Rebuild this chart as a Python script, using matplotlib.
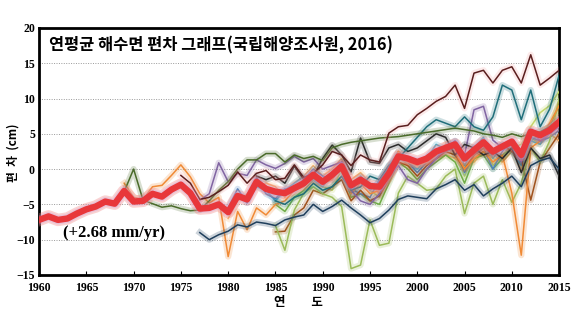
import matplotlib
matplotlib.use("Agg")
import matplotlib.pyplot as plt
import matplotlib.patheffects as pe
import numpy as np

# ---------------- data ----------------
mean_years = list(range(1960, 2016))
mean_vals = [-7.2, -6.7, -7.2, -7.0, -6.3, -5.7, -5.3, -4.6, -4.9, -3.1,
             -4.6, -4.5, -3.5, -3.9, -2.9, -2.2, -3.4, -5.6, -5.5, -5.0,
             -6.1, -3.8, -4.3, -1.8, -2.8, -3.2, -3.4, -2.7, -2.0, -0.8,
             -1.8, -0.8, 0.4, -2.3, -1.5, -2.4, -2.5, -0.6, 1.8, 1.5,
             1.0, 1.5, 2.5, 3.0, 3.5, 1.5, 2.7, 3.8, 2.5, 3.2,
             3.9, 2.0, 5.3, 4.8, 5.5, 6.7]

brown_start = 1975
brown_vals = [-0.9, -2.0, -4.3, -4.0, -3.2, -2.3, -0.4, -2.0, -0.6, -0.2,
              -1.5, -1.3, 0.6, -1.2, -0.6, 0.6, 2.5, 2.0, 0.5, 2.0,
              1.3, 1.0, 5.1, 6.0, 6.2, 7.7, 8.6, 9.6, 10.3, 11.9,
              8.6, 13.6, 14.0, 12.2, 14.0, 14.5, 12.2, 16.2, 11.9, 12.9, 14.0]

navy_start = 1977
navy_vals = [-9.0, -10.0, -9.3, -8.8, -7.9, -8.2, -7.5, -7.7, -8.0, -7.2,
             -6.8, -6.5, -5.0, -6.0, -5.3, -4.4, -5.5, -6.5, -7.6, -7.0,
             -5.8, -4.3, -3.8, -4.0, -4.2, -2.8, -2.2, -1.5, -3.0, -2.2,
             -3.8, -2.8, -2.0, -1.0, -2.5, 0.5, 1.2, 1.6, 0.0]

olive_start = 1985
olive_vals = [-8.0, -11.5, -5.8, -3.4, -2.5, -3.5, -4.0, -5.3, -14.1, -13.6,
              -7.2, -10.8, -10.5, -3.4, -1.0, -2.0, -3.0, -2.8, -1.0, 0.0,
              -6.3, -2.0, -1.0, -5.0, -1.5, -4.7, -2.0, 3.0, 1.0, 4.0, 10.0]

orange_start = 1969
orange_vals = [-2.0, -4.0, -4.3, -2.5, -2.3, -0.9, 0.6, -1.1, -3.5, -4.8,
               -4.0, -12.4, -6.0, -8.6, -5.5, -6.5, -5.0, -4.5, -3.0, -2.5,
               -1.0, -2.0, -1.5, 0.5, -3.5, -2.0, -3.5, -3.0, -1.0, 2.5,
               1.0, 0.5, 1.0, 2.0, 3.5, 2.5, 0.0, 1.5, 2.5, 1.0,
               2.0, -3.4, -12.2, 3.0, 4.0, 6.5, 9.0]

purple_start = 1977
purple_vals = [-4.4, -3.5, 0.9, -1.8, -0.6, -0.9, 1.3, 0.6, 0.1, 0.8,
               1.8, 1.0, 1.5, 0.0, 0.5, 1.0, -3.0, -4.5, -5.0, -3.5,
               -1.0, 0.5, -1.5, -2.0, 0.0, 1.5, 3.0, 4.0, 2.0, 8.4,
               8.9, 4.1, 3.0, 3.5, 1.0, 5.5, 4.0, 5.0, 6.0]

dkgreen_start = 1969
dkgreen_vals = [-3.2, 0.0, -4.4, -4.9, -5.4, -5.2, -5.6, -5.9, -5.8, -4.5,
                -3.0, -1.8, 0.0, 1.3, 1.3, 2.2, 2.2, 1.0, 2.0, 1.5,
                1.8, 1.2, 3.0, 3.5, 3.8, 4.0, 4.2, 4.4, 4.5, 4.6,
                4.8, 5.0, 5.2, 5.4, 5.6, 5.8, 5.6, 5.4, 5.0, 4.8,
                4.5, 5.0, 4.6, 5.0, 5.3, 6.0, 7.0]

teal_start = 1985
teal_vals = [-4.5, -5.0, -4.0, -3.5, -2.0, -3.0, -2.5, -1.0, -3.0, -2.5,
             -1.0, -1.5, 0.5, 1.5, 3.0, 4.5, 6.0, 7.0, 6.5, 6.0,
             7.4, 6.0, 5.5, 7.4, 11.9, 11.2, 7.0, 11.2, 6.0, 8.5, 13.3]

blue_start = 1980
blue_vals = [-5.5, -2.8, -4.8, -1.2, -3.5, -4.2, -2.8, -3.0, -1.5, 0.0,
             -1.0, -1.5, 1.0, -2.8, -3.5, -4.0, -1.5, 0.0, 2.5, 1.0,
             -0.5, 1.0, 2.0, 2.5, 3.0, -0.5, 2.0, 3.0, 0.0, 2.5,
             4.0, 1.0, 4.5, 4.0, 4.5, 5.5]

cyan_start = 1983
cyan_vals = [-2.5, -3.0, -4.5, -3.0, -2.0, -1.0, -1.5, -2.5, -0.5, 0.0,
             -3.5, -1.0, -3.0, -1.8, 0.5, 2.0, 1.0, 0.0, 1.5, 3.5,
             2.8, 4.0, 0.5, 3.0, 4.5, 1.5, 3.5, 2.5, 0.5, 4.0,
             3.5, 6.0, 7.0]

ltorange_start = 1980
ltorange_vals = [-7.0, -4.5, -3.5, -2.5, -2.0, -2.5, -4.0, -2.0, -1.0, 0.5,
                 -1.0, 0.0, 1.5, -1.5, -0.5, -2.0, -3.5, -1.5, 2.0, 0.5,
                 0.0, 0.8, 1.5, 2.0, 1.5, 0.5, 1.0, 2.5, 1.5, 1.0,
                 2.5, 0.0, 4.5, 3.5, 5.0, 4.0]

rust_start = 1985
rust_vals = [-8.9, -8.8, -6.5, -5.5, -3.0, -3.5, -2.5, -1.5, -4.5, -3.0,
             -4.5, -3.8, -1.5, 1.0, 0.5, -1.0, 0.5, 1.5, 2.5, 2.0,
             0.0, 2.0, 3.0, 2.0, 3.5, 2.5, 1.5, -4.4, 1.0, 3.0, 5.0]

green_start = 1985
green_vals = [-5.0, -6.0, -4.0, -3.0, -1.5, -2.0, -1.0, 0.5, -4.0, -3.5,
              -4.5, -5.0, -2.0, 1.0, 0.0, -1.5, 0.0, 1.0, 2.0, 1.0,
              -2.0, 1.5, 2.0, 0.0, 1.5, 3.0, 1.0, 4.0, 5.0, 6.0, 9.0]

ygreen_start = 1987
ygreen_vals = [-4.0, -3.5, -2.0, -2.5, -3.0, 0.0, -2.0, -1.0, -3.0, -4.0,
               0.0, 2.0, 1.0, 0.5, 1.5, 2.0, 3.0, 2.5, -1.0, 2.0,
               4.0, 0.5, 2.0, 3.0, 3.5, 6.0, 8.0, 9.0, 11.0]

black_start = 1983
black_vals = [-1.0, -1.5, -1.0, -2.0, 0.4, -1.5, -1.0, 1.5, 3.4, 2.0,
              -0.4, 4.4, 1.0, 0.8, 3.0, 3.5, 2.5, 3.0, 4.0, 5.0,
              4.5, 2.0, 3.5, 3.0, 2.0, 2.5, 1.5, 3.0, -0.5, 3.0,
              1.5, 2.0, -1.0]

x_ticks = [1960, 1965, 1970, 1975, 1980, 1985, 1990, 1995, 2000, 2005, 2010, 2015]
y_ticks = [-15, -10, -5, 0, 5, 10, 15, 20]

title_text = "연평균 해수면 편차 그래프(국립해양조사원, 2016)"
rate_text = "(+2.68 mm/yr)"
ylabel_text = "편  차  (cm)"
xlabel_text = "연         도"

# ---------------- plot ----------------
fig = plt.figure(figsize=(5.83, 3.25), dpi=100)
ax = fig.add_axes([0.067, 0.154, 0.892, 0.760])

stations = [
    (ygreen_start, ygreen_vals, "#c3d66a"),
    (ltorange_start, ltorange_vals, "#f6b26b"),
    (green_start, green_vals, "#70ad47"),
    (cyan_start, cyan_vals, "#4bacc6"),
    (blue_start, blue_vals, "#4f81bd"),
    (rust_start, rust_vals, "#a0521d"),
    (olive_start, olive_vals, "#9bbb59"),
    (orange_start, orange_vals, "#f08a36"),
    (purple_start, purple_vals, "#8064a2"),
    (black_start, black_vals, "#2b2b2b"),
    (teal_start, teal_vals, "#1f6e7a"),
    (dkgreen_start, dkgreen_vals, "#4a6b2a"),
    (navy_start, navy_vals, "#1f3f5c"),
    (brown_start, brown_vals, "#5a1e1e"),
]

for start, vals, col in stations:
    yrs = np.arange(start, start + len(vals))
    glow = "#f4a0a0" if col == "#5a1e1e" else col
    ax.plot(yrs, vals, color=col, lw=1.1, zorder=3,
            path_effects=[pe.Stroke(linewidth=4.5, foreground=glow, alpha=0.22),
                          pe.Normal()])

ax.plot(mean_years, mean_vals, color="#e8373a", lw=4.6, zorder=5,
        solid_joinstyle="round",
        path_effects=[pe.Stroke(linewidth=9, foreground="#f08080", alpha=0.35),
                      pe.Stroke(linewidth=6.5, foreground="#c8a0e0", alpha=0.3),
                      pe.Normal()])

ax.set_xlim(1960, 2015)
ax.set_ylim(-15, 20)
ax.set_xticks(x_ticks)
ax.set_yticks(y_ticks)

serif = ["Liberation Serif", "DejaVu Serif"]
for lab in ax.get_xticklabels() + ax.get_yticklabels():
    lab.set_fontfamily(serif)
    lab.set_fontweight("bold")
    lab.set_fontsize(8.5)

ax.tick_params(axis="x", direction="in", length=3, width=0.8, pad=5)
ax.tick_params(axis="y", length=0, pad=3)

ax.grid(axis="y", linestyle=(0, (1, 1.5)), color="#999999", lw=0.7)
ax.set_axisbelow(True)
for s in ax.spines.values():
    s.set_linewidth(2)
    s.set_color("black")

kfont = ["Noto Sans CJK KR", "DejaVu Sans"]
ax.text(1961.0, 17.6, title_text, fontfamily=kfont, fontweight="bold",
        fontsize=11.8, ha="left", va="center", zorder=6)
ax.text(1962.5, -9.1, rate_text, fontfamily=serif, fontweight="bold",
        fontsize=12, ha="left", va="center", zorder=6)

fig.text(0.022, 0.53, ylabel_text, fontfamily=kfont, fontweight="bold",
         fontsize=8.5, rotation=90, ha="center", va="center")
fig.text(0.512, 0.068, xlabel_text, fontfamily=kfont, fontweight="bold",
         fontsize=9, ha="center", va="center")

fig.savefig("out.png", dpi=100)
